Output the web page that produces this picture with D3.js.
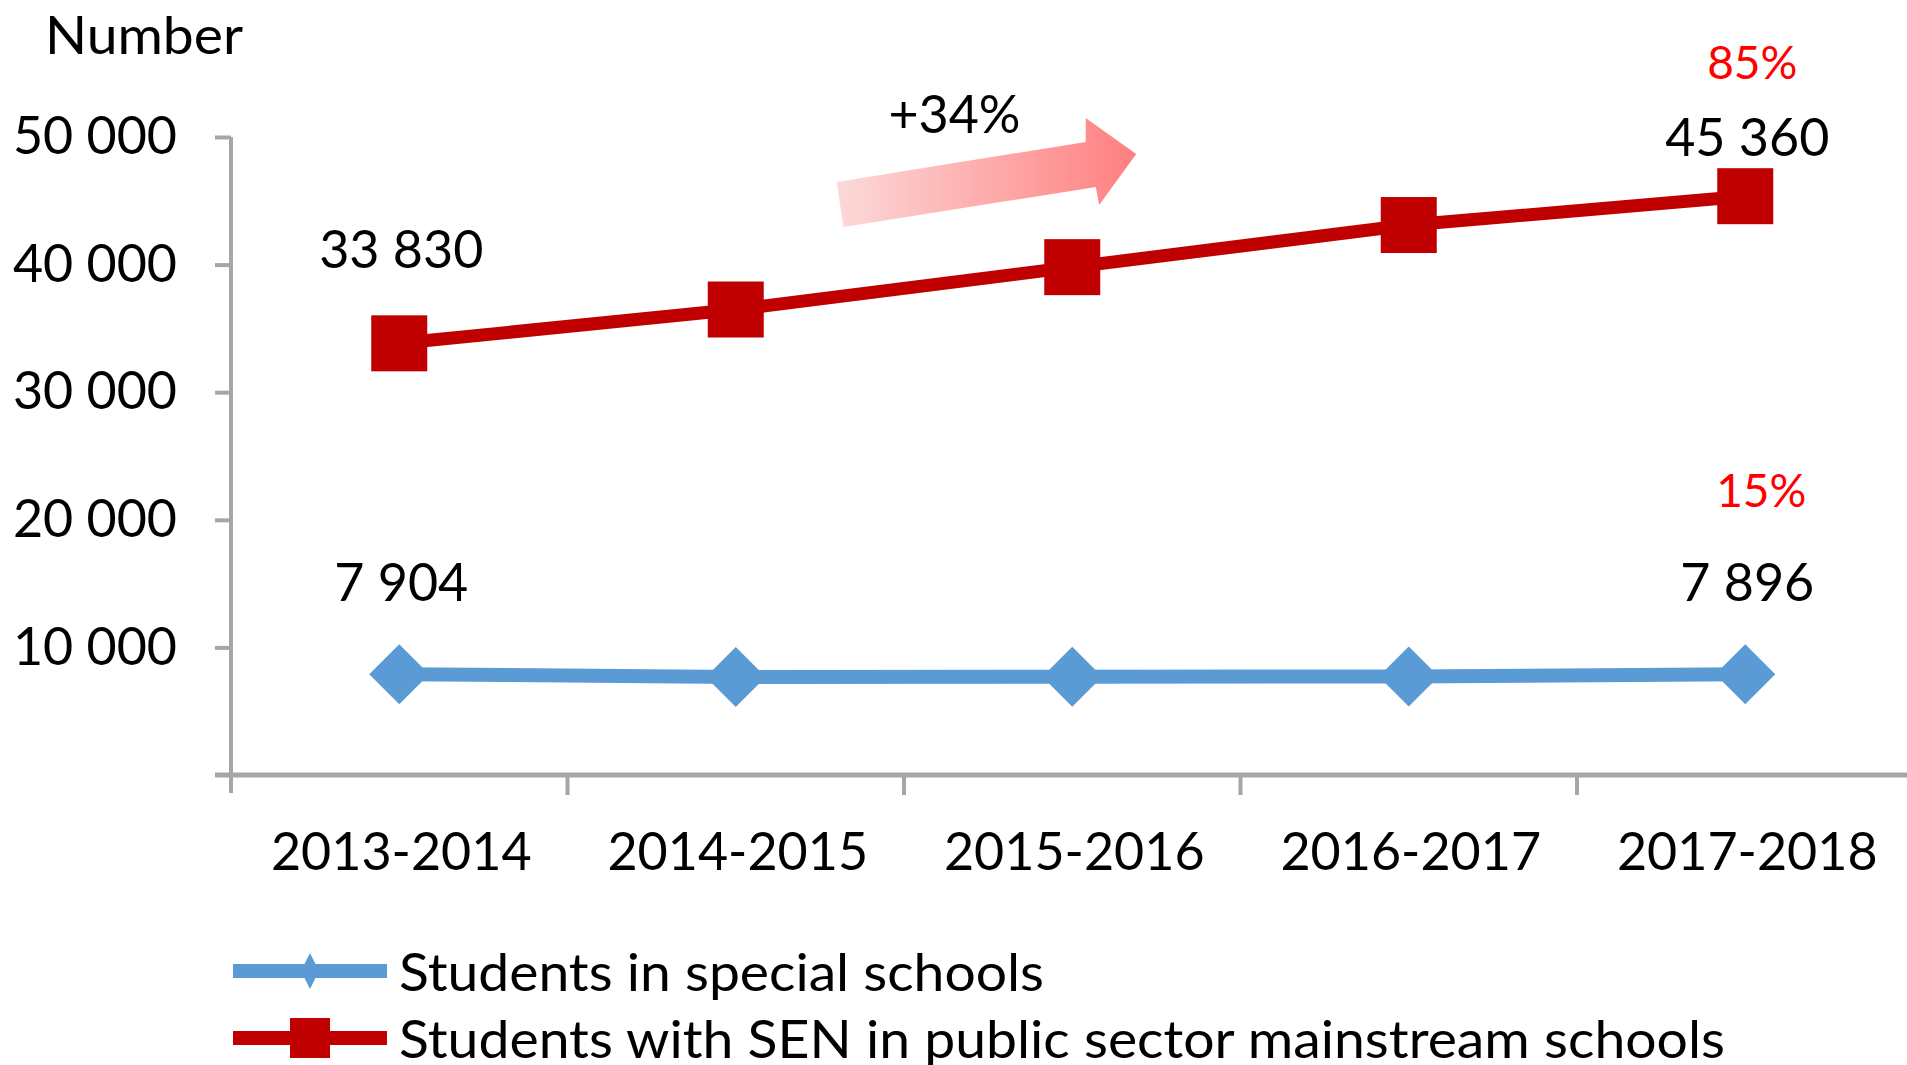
<!DOCTYPE html>
<html>
<head>
<meta charset="utf-8">
<script src="https://cdn.jsdelivr.net/npm/d3@7"></script>
<style>
  body { margin: 0; background: #fff; }
  text { font-family: Lato, "Open Sans", sans-serif; fill: #000; }
</style>
</head>
<body>
<svg id="chart" width="1907" height="1065"></svg>
<script>
// Data
var years = ["2013-2014", "2014-2015", "2015-2016", "2016-2017", "2017-2018"];
var special = [7904, 7680, 7700, 7720, 7896];
var mainstream = [33830, 36480, 39800, 43100, 45360];
var yTicks = [10000, 20000, 30000, 40000, 50000];
var seriesNames = ["Students in special schools", "Students with SEN in public sector mainstream schools"];
var shareLabels = ["15%", "85%"];
var growthLabel = "+34%";

var svg = d3.select("#chart");

var left = 231, bandW = 336.5, y0 = 775, yTop = 137;

// category axis: Excel style, ticks between categories
var xBand = d3.scaleBand().domain(years).range([left, left + bandW * years.length]);
var xPos = function(i) { return xBand(years[i]) + xBand.bandwidth() / 2; };
// fractional category index -> pixel, used for the arrow annotation
var xIdx = d3.scaleLinear().domain([0, 1]).range([xPos(0), xPos(1)]);

var y = d3.scaleLinear().domain([0, 50000]).range([y0, yTop]);

var fmt = function(v) { return d3.format(",")(v).replace(/,/g, " "); };

// axes
var axisColor = "#a6a6a6";
svg.append("line")
  .attr("x1", left).attr("x2", left)
  .attr("y1", yTop).attr("y2", y0 + 18)
  .attr("stroke", axisColor).attr("stroke-width", 4);

var yAxis = svg.append("g").attr("transform", "translate(" + left + ",0)")
  .call(d3.axisLeft(y).tickValues(yTicks).tickSize(16).tickPadding(38).tickFormat(fmt));
yAxis.select(".domain").remove();
yAxis.selectAll(".tick line").attr("stroke", axisColor).attr("stroke-width", 4);
yAxis.selectAll(".tick text").attr("font-size", 52).attr("font-family", "Lato").attr("fill", "#000");

svg.append("line")
  .attr("x1", left - 16).attr("x2", 1907)
  .attr("y1", y0).attr("y2", y0)
  .attr("stroke", axisColor).attr("stroke-width", 5);

// tick marks between categories
svg.selectAll(".xtick")
  .data(years.slice(1))
  .enter().append("line")
  .attr("class", "xtick")
  .attr("x1", function(d) { return xBand(d); })
  .attr("x2", function(d) { return xBand(d); })
  .attr("y1", y0).attr("y2", y0 + 20)
  .attr("stroke", axisColor).attr("stroke-width", 4);

svg.selectAll(".xlab")
  .data(years)
  .enter().append("text")
  .attr("class", "xlab")
  .attr("x", function(d, i) { return xPos(i) + 2; })
  .attr("y", 850)
  .attr("text-anchor", "middle")
  .attr("dominant-baseline", "central")
  .attr("font-size", 52)
  .text(function(d) { return d; });

svg.append("text")
  .attr("x", 45).attr("y", 33)
  .attr("dominant-baseline", "central")
  .attr("font-size", 53)
  .attr("textLength", 198).attr("lengthAdjust", "spacingAndGlyphs")
  .text("Number");

// growth arrow (annotation), anchored in category/value space
var grad = svg.append("defs").append("linearGradient")
  .attr("id", "arrowGrad").attr("x1", "0%").attr("x2", "100%").attr("y1", "0%").attr("y2", "0%");
grad.append("stop").attr("offset", "0%").attr("stop-color", "#fcd9d9");
grad.append("stop").attr("offset", "100%").attr("stop-color", "#ff7f7f");

var arrowPts = [
  [1.30, 46470], [2.04, 49610], [2.04, 51490], [2.19, 48670],
  [2.08, 44670], [2.07, 46080], [1.32, 42950]
];
svg.append("path")
  .attr("d", d3.line().x(function(d) { return xIdx(d[0]); }).y(function(d) { return y(d[1]); })(arrowPts) + "Z")
  .attr("fill", "url(#arrowGrad)");

svg.append("text")
  .attr("x", xIdx(1.65)).attr("y", 113)
  .attr("text-anchor", "middle").attr("dominant-baseline", "central")
  .attr("font-size", 52)
  .text(growthLabel);

// lines
var blue = "#5b9bd5", red = "#c00000";
var line = d3.line().x(function(d, i) { return xPos(i); }).y(function(d) { return y(d); });

svg.append("path").datum(special)
  .attr("d", line).attr("fill", "none")
  .attr("stroke", blue).attr("stroke-width", 14);

svg.append("path").datum(mainstream)
  .attr("d", line).attr("fill", "none")
  .attr("stroke", red).attr("stroke-width", 13);

// markers
var diamond = function(cx, cy, w, h) {
  return "M" + cx + "," + (cy - h) + "L" + (cx + w) + "," + cy + "L" + cx + "," + (cy + h) + "L" + (cx - w) + "," + cy + "Z";
};
svg.selectAll(".dmk").data(special).enter().append("path")
  .attr("class", "dmk")
  .attr("d", function(d, i) { return diamond(xPos(i), y(d), 30, 30); })
  .attr("fill", blue);

svg.selectAll(".smk").data(mainstream).enter().append("rect")
  .attr("class", "smk")
  .attr("x", function(d, i) { return xPos(i) - 28; })
  .attr("y", function(d) { return y(d) - 28; })
  .attr("width", 56).attr("height", 56)
  .attr("fill", red);

// value labels on first and last points
var last = years.length - 1;
[[0, special[0], 581], [last, special[last], 581], [0, mainstream[0], 248], [last, mainstream[last], 136]]
  .forEach(function(l) {
    svg.append("text")
      .attr("x", xPos(l[0]) + 2).attr("y", l[2])
      .attr("text-anchor", "middle").attr("dominant-baseline", "central")
      .attr("font-size", 52)
      .text(fmt(l[1]));
  });

// share labels
svg.append("text")
  .attr("x", xPos(last) + 16).attr("y", 489)
  .attr("text-anchor", "middle").attr("dominant-baseline", "central")
  .attr("font-family", "Liberation Sans").attr("font-size", 46)
  .style("fill", "#ff0000")
  .text(shareLabels[0]);
svg.append("text")
  .attr("x", xPos(last) + 7).attr("y", 61)
  .attr("text-anchor", "middle").attr("dominant-baseline", "central")
  .attr("font-family", "Liberation Sans").attr("font-size", 46)
  .style("fill", "#ff0000")
  .text(shareLabels[1]);

// legend
var legend = svg.append("g");
var legY = [971, 1038];
var legW = [645, 1326];
legend.selectAll(".lline").data(seriesNames).enter().append("line")
  .attr("x1", 233).attr("x2", 387)
  .attr("y1", function(d, i) { return legY[i]; })
  .attr("y2", function(d, i) { return legY[i]; })
  .attr("stroke", function(d, i) { return i === 0 ? blue : red; })
  .attr("stroke-width", 14);
legend.append("path").attr("d", diamond(310, legY[0], 9, 18)).attr("fill", blue);
legend.append("rect").attr("x", 290).attr("y", legY[1] - 20).attr("width", 40).attr("height", 40).attr("fill", red);
legend.selectAll(".ltext").data(seriesNames).enter().append("text")
  .attr("x", 399)
  .attr("y", function(d, i) { return legY[i]; })
  .attr("dominant-baseline", "central")
  .attr("font-size", 52)
  .attr("textLength", function(d, i) { return legW[i]; })
  .attr("lengthAdjust", "spacingAndGlyphs")
  .text(function(d) { return d; });
</script>
</body>
</html>
